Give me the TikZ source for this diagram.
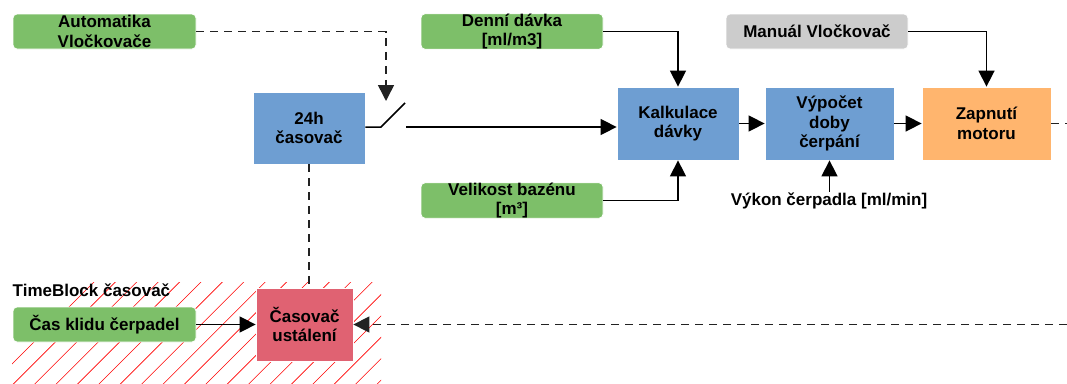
\documentclass[tikz,border=0pt]{standalone}
\usepackage{fontspec}
\setmainfont{Liberation Sans}
\usetikzlibrary{arrows.meta}
\definecolor{cgreen}{HTML}{7DBF69}
\definecolor{cblue}{HTML}{6E9ED2}
\definecolor{corange}{HTML}{FFB56E}
\definecolor{cgray}{HTML}{CCCCCC}
\definecolor{cred}{HTML}{E06272}
\definecolor{cdash}{HTML}{222222}
\tikzset{
  box/.style={draw=white, line width=0.8pt, inner sep=0pt, align=center, font=\fontsize{17}{19.5}\selectfont\bfseries, text=black},
  gbox/.style={box, fill=cgreen, rounded corners=4pt, minimum width=183pt, minimum height=35pt},
  graybox/.style={box, fill=cgray, rounded corners=4pt, minimum width=182pt, minimum height=35pt},
  bbox/.style={box, fill=cblue},
  obox/.style={box, fill=corange},
  rbox/.style={box, fill=cred},
  lbl/.style={inner sep=0pt, font=\fontsize{17}{19.5}\selectfont\bfseries},
  arr/.style={line width=1.5pt, -{Triangle[length=16pt,width=16pt]}},
  ln/.style={line width=1.5pt},
  dln/.style={line width=1.6pt, draw=cdash, dash pattern=on 8pt off 6pt},
  hatch/.style={red, line width=0.6pt},
}
\begin{document}
\begin{tikzpicture}[x=1pt,y=-1pt]
\useasboundingbox (0,0) rectangle (1067,383);
% hatch region
\begin{scope}
  \clip (12,282) rectangle (381,383);
  \foreach \c in {0,...,24} \draw[hatch] ({376+21.4*\c-383-10},393) -- ++(130,-130);
\end{scope}
\node[lbl, anchor=west] (tb) at (12.5,290) {TimeBlock časovač};

\node[gbox] (auto) at (104.5,31.5) {Automatika\\Vločkovače};
\node[gbox, minimum width=182pt] (denni) at (512,31.5) {Denní dávka\\{[ml/m3]}};
\node[graybox] (manual) at (817,31.5) {Manuál Vločkovač};
\node[bbox, minimum width=112pt, minimum height=72pt] (c24) at (309,128) {24h\\časovač};
\node[bbox, minimum width=122pt, minimum height=73pt] (kalk) at (678,123.5) {Kalkulace\\dávky};
\node[bbox, minimum width=129pt, minimum height=73pt] (vyp) at (829.5,123.5) {Výpočet\\doby\\čerpání};
\node[obox, minimum width=129pt, minimum height=73pt] (zap) at (986.5,123.5) {Zapnutí\\motoru};
\node[gbox, minimum width=182pt] (vel) at (512,200.5) {Velikost bazénu\\{[m³]}};
\node[lbl] (vykon) at (829,201) {Výkon čerpadla [ml/min]};
\node[gbox] (klid) at (104.5,324.5) {Čas klidu čerpadel};
\node[rbox, minimum width=97pt, minimum height=73pt] (ust) at (304.5,324.5) {Časovač\\ustálení};

% switch
\coordinate (swL) at (381,127);
\coordinate (swT) at (405,103);
\coordinate (swR) at (406,127);
\coordinate (swIn) at (386,101);
\coordinate (edgeR) at (1067,123.5);
\coordinate (edgeB) at (1067,324.5);

\draw[ln] (c24.east |- swL) -- (swL) -- (swT);
\draw[arr] (swR) -- (swR -| kalk.west);
\draw[dln, arr] (auto.east) -| (swIn);
\draw[arr] (denni.east) -| (kalk.north);
\draw[arr] (vel.east) -| (kalk.south);
\draw[arr] (manual.east) -| (zap.north);
\draw[arr] (kalk.east) -- (vyp.west);
\draw[arr] (vyp.east) -- (zap.west);
\draw[arr] (vykon.north -| vyp.south) ++(0,-1) -- (vyp.south);
\draw[dln] (zap.east) -- (edgeR);
\draw[dln, arr] (edgeB) -- (ust.east);
\draw[arr] (klid.east) -- (ust.west);
\draw[dln] (c24.south) -- (ust.north -| c24.south);
\end{tikzpicture}
\end{document}
